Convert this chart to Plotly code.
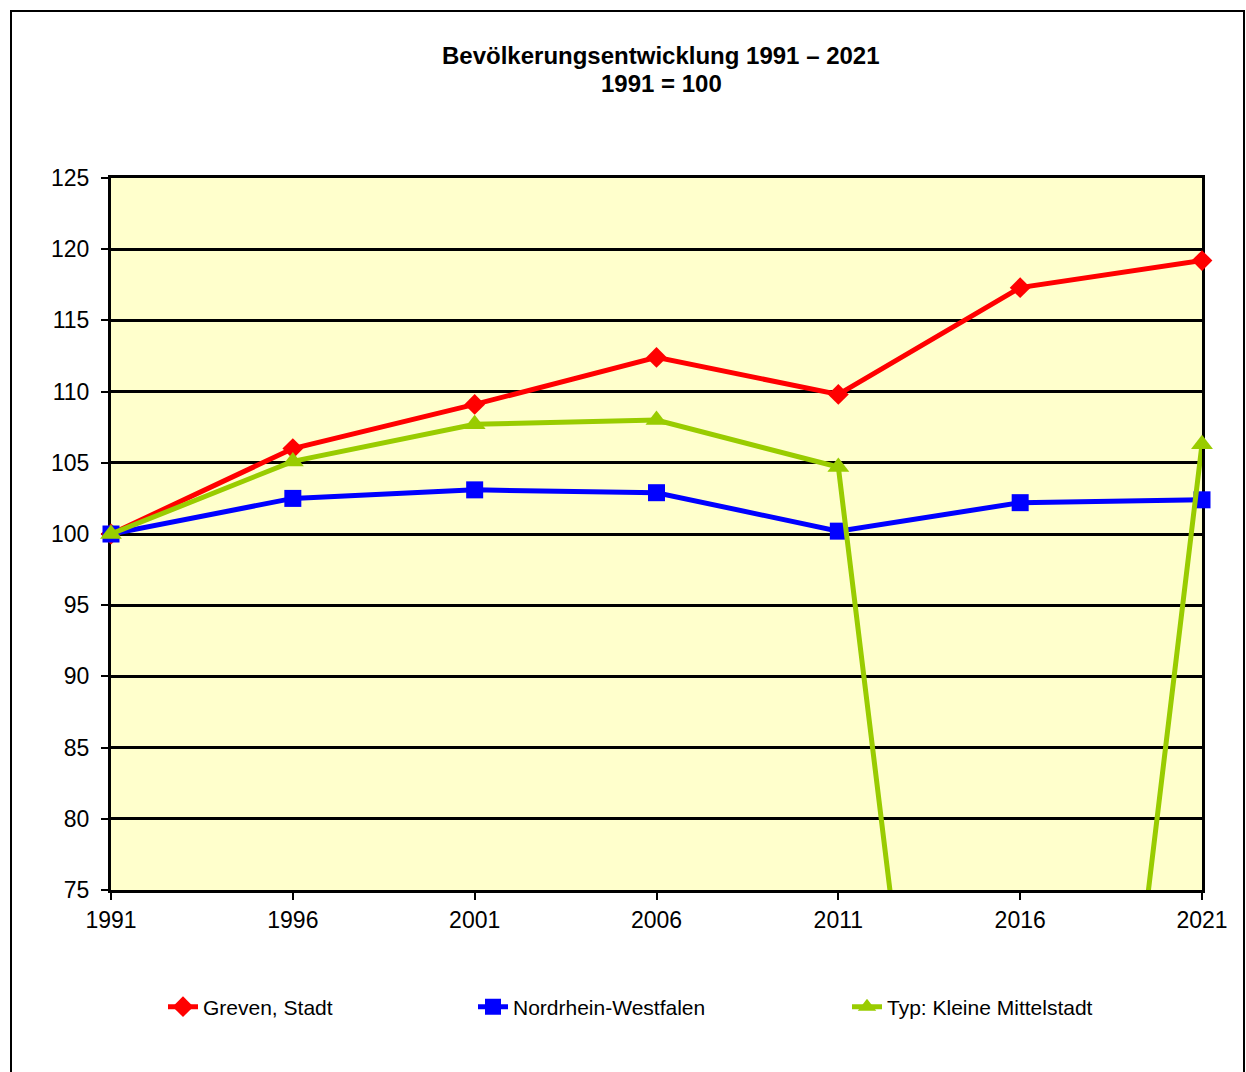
import plotly.graph_objects as go

years = [1991, 1996, 2001, 2006, 2011, 2016, 2021]
greven = [100.0, 106.0, 109.1, 112.4, 109.8, 117.3, 119.2]
nrw = [100.0, 102.5, 103.1, 102.9, 100.2, 102.2, 102.4]
typ = [100.0, 105.1, 107.7, 108.0, 104.7, 0.0, 106.3]

names = ["Greven, Stadt", "Nordrhein-Westfalen", "Typ: Kleine Mittelstadt"]
colors = ["#FF0000", "#0000FF", "#99CC00"]
symbols = ["diamond", "square", "triangle-up"]
msizes = [16, 17, 19]
series = [greven, nrw, typ]
y_ticks = [75, 80, 85, 90, 95, 100, 105, 110, 115, 120, 125]

W, H = 1246, 1072
L, R, T, B = 111, 1202, 178, 890

def px(x):
    return (x - L) / (R - L)

def py(y):
    return (B - y) / (B - T)

fig = go.Figure()
legend_names = ["legend", "legend2", "legend3"]
for s, n, c, sym, ms, lg in zip(series, names, colors, symbols, msizes, legend_names):
    fig.add_trace(go.Scatter(
        x=years, y=s, name=n, mode="lines+markers",
        line=dict(color=c, width=5),
        marker=dict(symbol=sym, size=ms, color=c),
        cliponaxis=False,
        legend=lg,
    ))

font = "Liberation Sans, Arial, sans-serif"
legend_text_x = [203, 513, 887]
leg_common = dict(orientation="h", xanchor="left", yanchor="middle",
                  font=dict(family=font, size=21, color="black"),
                  bgcolor="rgba(0,0,0,0)", borderwidth=0)
layout_legends = {}
for lg, tx in zip(legend_names, legend_text_x):
    layout_legends[lg] = dict(x=px(tx - 40), y=py(1007), **leg_common)

fig.update_layout(
    width=W, height=H,
    margin=dict(l=L, r=W - R, t=T, b=H - B),
    paper_bgcolor="white",
    plot_bgcolor="#FFFFCC",
    font=dict(family=font, size=21, color="black"),
    showlegend=True,
    **layout_legends,
    xaxis=dict(
        range=[1991, 2021], tickmode="array", tickvals=years,
        ticktext=[str(y) for y in years],
        showgrid=False, zeroline=False, layer="below traces",
        showline=True, linecolor="black", linewidth=3, mirror=True,
        ticks="outside", ticklen=7, tickwidth=2, tickcolor="black",
        tickfont=dict(family=font, size=23, color="black"),
    ),
    yaxis=dict(
        range=[75, 125], tickmode="array", tickvals=y_ticks,
        showgrid=True, gridcolor="black", gridwidth=2.5, zeroline=False,
        layer="below traces",
        showline=True, linecolor="black", linewidth=3, mirror=True,
        ticks="outside", ticklen=7, tickwidth=2, tickcolor="black",
        ticklabelstandoff=7,
        tickfont=dict(family=font, size=23, color="black"),
    ),
    annotations=[
        dict(text="<b>Bevölkerungsentwicklung 1991 – 2021</b>", x=px(661), y=py(55),
             xref="paper", yref="paper", showarrow=False, xanchor="center", yanchor="middle",
             font=dict(family=font, size=24, color="black")),
        dict(text="<b>1991 = 100</b>", x=px(661), y=py(83),
             xref="paper", yref="paper", showarrow=False, xanchor="center", yanchor="middle",
             font=dict(family=font, size=24, color="black")),
    ],
    shapes=[
        dict(type="rect", xref="paper", yref="paper",
             x0=px(11), x1=px(1244), y0=py(1100), y1=py(11),
             line=dict(color="black", width=2), fillcolor="rgba(0,0,0,0)", layer="below"),
    ],
)

fig.write_html(
    "out.html",
    config={"displayModeBar": False},
    post_script="document.body.style.margin='0';document.body.style.overflow='hidden';",
)
